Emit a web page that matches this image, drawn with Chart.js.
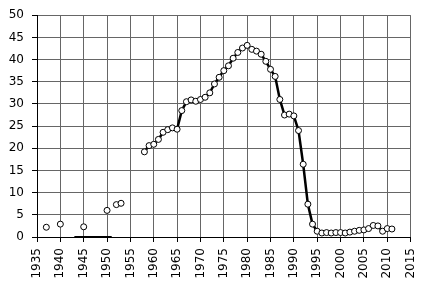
<!DOCTYPE html>
<html>
<head>
<meta charset="utf-8">
<script src="https://cdn.jsdelivr.net/npm/chart.js@4"></script>
<style>
  html, body { margin: 0; padding: 0; background: #fff; }
  #wrap { width: 431px; height: 284px; }
</style>
</head>
<body>
<div id="wrap"><canvas id="chart" width="431" height="284"></canvas></div>
<script>
// early scattered readings (not joined)
var earlyYears = [1937, 1940, 1945, 1950, 1952, 1953];
var earlyValues = [2.2, 2.9, 2.3, 6.0, 7.3, 7.6];

// annual series 1958-2011
var years = [1958, 1959, 1960, 1961, 1962, 1963, 1964, 1965, 1966, 1967,
    1968, 1969, 1970, 1971, 1972, 1973, 1974, 1975, 1976, 1977,
    1978, 1979, 1980, 1981, 1982, 1983, 1984, 1985, 1986, 1987,
    1988, 1989, 1990, 1991, 1992, 1993, 1994, 1995, 1996, 1997,
    1998, 1999, 2000, 2001, 2002, 2003, 2004, 2005, 2006, 2007,
    2008, 2009, 2010, 2011];
var values = [19.2, 20.6, 20.9, 22.0, 23.6, 24.2, 24.6, 24.3, 28.5, 30.5,
    30.9, 30.6, 31.0, 31.5, 32.5, 34.5, 36.0, 37.5, 38.6, 40.3,
    41.6, 42.6, 43.2, 42.3, 41.9, 41.2, 39.6, 37.8, 36.2, 31.0,
    27.5, 27.7, 27.3, 24.0, 16.4, 7.4, 2.9, 1.3, 0.9, 1.0,
    0.9, 1.0, 1.0, 0.9, 1.1, 1.3, 1.5, 1.6, 1.9, 2.6,
    2.5, 1.3, 1.9, 1.8];

// short run of zero readings along the axis
var zeroYears = [1943, 1951];
var zeroValues = [0, 0];

function toPoints(xs, ys) {
    return xs.map(function (x, i) { return { x: x, y: ys[i] }; });
}

var tickFont = { family: 'DejaVu Sans', size: 12 };

var ctx = document.getElementById('chart').getContext('2d');
new Chart(ctx, {
    type: 'line',
    data: {
        datasets: [{
            data: toPoints(zeroYears, zeroValues),
            borderColor: '#000',
            borderWidth: 2,
            pointRadius: 0,
            clip: false
        }, {
            data: toPoints(earlyYears, earlyValues),
            showLine: false,
            pointRadius: 3,
            pointBorderWidth: 1,
            pointBorderColor: '#000',
            pointBackgroundColor: '#fff'
        }, {
            data: toPoints(years, values),
            borderColor: '#000',
            borderWidth: 2.5,
            tension: 0,
            pointRadius: 3,
            pointBorderWidth: 1,
            pointBorderColor: '#000',
            pointBackgroundColor: '#fff'
        }]
    },
    options: {
        responsive: false,
        animation: false,
        layout: { padding: { top: 12, right: 6, left: 0, bottom: 0 } },
        plugins: {
            legend: { display: false },
            tooltip: { enabled: false }
        },
        scales: {
            x: {
                type: 'linear',
                min: 1935,
                max: 2015,
                ticks: {
                    stepSize: 5,
                    autoSkip: false,
                    minRotation: 90,
                    maxRotation: 90,
                    padding: 6,
                    color: '#000',
                    font: tickFont,
                    callback: function (v) { return String(v); }
                },
                grid: { color: '#666', lineWidth: 1, tickColor: '#000', tickLength: 5 },
                border: { color: '#000', width: 1 },
                afterFit: function (scale) { scale.height = 47; }
            },
            y: {
                min: 0,
                max: 50,
                ticks: {
                    stepSize: 5,
                    padding: 8,
                    color: '#000',
                    font: tickFont
                },
                grid: { color: '#666', lineWidth: 1, tickColor: '#000', tickLength: 5 },
                border: { color: '#000', width: 1 },
                afterFit: function (scale) { scale.width = 37; }
            }
        }
    }
});
</script>
</body>
</html>
